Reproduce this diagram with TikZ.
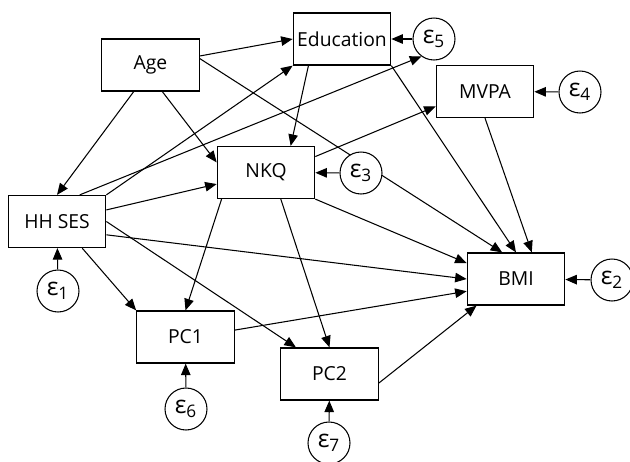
\documentclass[tikz,border=0pt]{standalone}
\usepackage{fontspec}
\setmainfont{Open Sans}
\usetikzlibrary{arrows.meta, positioning, calc, backgrounds}

\begin{document}
\begin{tikzpicture}[x=0.02cm, y=-0.02cm,
    var/.style={draw, line width=0.7pt, fill=white, minimum width=1.95cm,
      minimum height=1.04cm, inner sep=0pt, font=\fontsize{11}{13}\selectfont},
    err/.style={draw, circle, line width=0.6pt, fill=white, minimum size=0.84cm,
      inner sep=0pt, font=\fontsize{14}{16}\selectfont},
    arr/.style={line width=0.6pt, -{Triangle[length=2.3mm, width=1.9mm]}}]

      \useasboundingbox (0,0) rectangle (630,461);

      % Observed variables
      \node[var] (age) at (150.5,65) {Age};
      \node[var] (edu) at (342,39) {Education};
      \node[var] (mvpa) at (485,91.5) {MVPA};
      \node[var] (nkq) at (266,172.5) {NKQ};
      \node[var] (hhses) at (57,221.5) {HH SES};
      \node[var] (pc1) at (185.5,337) {PC1};
      \node[var] (pc2) at (329.5,374) {PC2};
      \node[var] (bmi) at (516,279) {BMI};

      % Errors
      \node[err] (e1) at (58,291) {ε\textsubscript{1}};
      \node[err] (e2) at (612,280) {ε\textsubscript{2}};
      \node[err] (e3) at (361,173) {ε\textsubscript{3}};
      \node[err] (e4) at (580,92) {ε\textsubscript{4}};
      \node[err] (e5) at (434,39) {ε\textsubscript{5}};
      \node[err] (e6) at (186,409) {ε\textsubscript{6}};
      \node[err] (e7) at (329,443) {ε\textsubscript{7}};

      \begin{scope}[on background layer]
        % Age
        \draw[arr] (age) -- (edu.west);
        \draw[arr] ($(age.south west)!.33!(age.south east)$) -- (hhses.north);
        \draw[arr] ($(age.south west)!.62!(age.south east)$)
          -- ($(nkq.north west)!.31!(nkq.south west)$);
        \draw[arr] ($(age.north east)!.38!(age.south east)$)
          -- ($(bmi.north west)!.36!(bmi.north east)$);

        % HH SES
        \draw[arr] (hhses.north east) -- (edu.south west);
        \draw[arr] ($(hhses.north west)!.73!(hhses.north east)$) -- (e5.234);
        \draw[arr] (hhses) -- (nkq);
        \draw[arr] ($(hhses.north east)!.75!(hhses.south east)$) -- (bmi.west);
        \draw[arr] ($(hhses.south west)!.755!(hhses.south east)$) -- (pc1.north west);
        \draw[arr] (hhses.east) -- ($(pc2.north west)!.16!(pc2.north east)$);

        % Education, NKQ, MVPA
        \draw[arr] ($(edu.south west)!.16!(edu.south east)$)
          -- ($(nkq.north west)!.75!(nkq.north east)$);
        \draw[arr] (edu.south east) -- (bmi.north);
        \draw[arr] ($(nkq.north east)!.2!(nkq.south east)$)
          -- ($(mvpa.north west)!.78!(mvpa.south west)$);
        \draw[arr] ($(nkq.south west)!.05!(nkq.south east)$) -- (pc1.north);
        \draw[arr] ($(nkq.south west)!.65!(nkq.south east)$) -- (pc2.north);
        \draw[arr] (nkq.south east) -- ($(bmi.north west)!.2!(bmi.south west)$);
        \draw[arr] (mvpa.south) -- ($(bmi.north west)!.66!(bmi.north east)$);

        % PC1, PC2
        \draw[arr] ($(pc1.north east)!.37!(pc1.south east)$)
          -- ($(bmi.north west)!.73!(bmi.south west)$);
        \draw[arr] ($(pc2.north east)!.67!(pc2.south east)$)
          -- ($(bmi.south west)!.1!(bmi.south east)$);

        % Errors
        \draw[arr] (e1) -- (hhses);
        \draw[arr] (e2) -- (bmi);
        \draw[arr] (e3) -- (nkq);
        \draw[arr] (e4) -- (mvpa);
        \draw[arr] (e5) -- (edu);
        \draw[arr] (e6) -- (pc1);
        \draw[arr] (e7) -- (pc2);
      \end{scope}
    \end{tikzpicture}
\end{document}
